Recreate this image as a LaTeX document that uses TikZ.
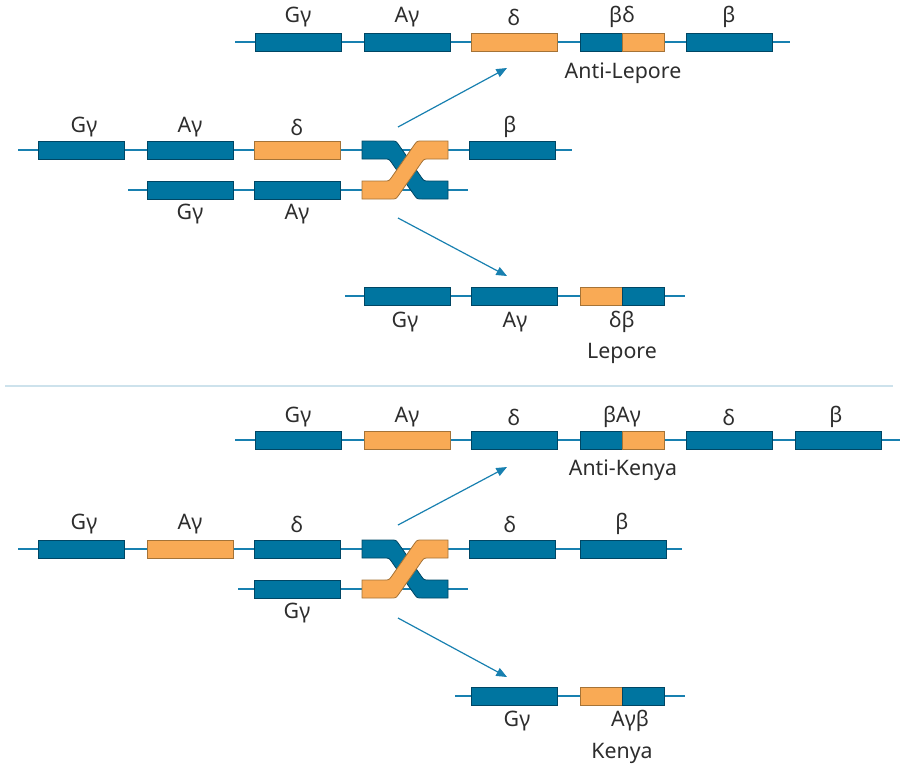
\documentclass[tikz,border=0pt]{standalone}
\usepackage{fontspec}
\setmainfont{Noto Sans}
\usetikzlibrary{arrows.meta,positioning}
\definecolor{geneblue}{RGB}{0,117,160}
\definecolor{geneblueline}{RGB}{0,70,100}
\definecolor{geneorange}{RGB}{249,170,85}
\definecolor{geneorangeline}{RGB}{165,115,55}
\definecolor{strandblue}{RGB}{24,128,176}
\definecolor{rulecolor}{RGB}{205,226,236}
\definecolor{labeltext}{RGB}{45,45,45}
\tikzset{
    gene/.style={draw=geneblueline, fill=geneblue, line width=0.6pt,
        minimum width=64.5pt, minimum height=13.5pt, inner sep=0pt},
    fused/.style={gene, draw=geneorangeline, fill=geneorange},
    halfgene/.style={minimum width=31.5pt},
    strand/.style={draw=strandblue, line width=1.1pt},
    lbl/.style={text=labeltext, font=\fontsize{16}{19}\selectfont, inner sep=0pt},
    outcome/.style={draw=strandblue, line width=0.9pt, -{Triangle[length=8pt,width=6.5pt]}},
}

\begin{document}
\begin{tikzpicture}[x=0.75pt,y=0.75pt,yscale=-1,xscale=1]
\useasboundingbox (0,0) rectangle (907,765);

%Strands
\draw[strand] (235,42) -- (790,42);
\draw[strand] (18,150) -- (572,150);
\draw[strand] (128,190) -- (468,190);
\draw[strand] (345,296) -- (685,296);
\draw[strand] (235,440) -- (900,440);
\draw[strand] (18,549) -- (682,549);
\draw[strand] (238,589) -- (468,589);
\draw[strand] (455,696) -- (685,696);

%Crossover
\foreach \dy in {0,399} {
\begin{scope}[shift={(0,\dy)}]
\draw[draw=geneblueline, fill=geneblue, line width=0.6pt] (362,141) -- (391,141) .. controls (396,141) .. (398.9,145.1) -- (421.1,176.9) .. controls (424,181) .. (429,181) -- (448,181) -- (448,199) -- (422,199) .. controls (417,199) .. (414.1,194.9) -- (391.9,163.1) .. controls (389,159) .. (384,159) -- (362,159) -- cycle;
\draw[draw=geneorangeline, fill=geneorange, line width=0.6pt] (362,199) -- (391,199) .. controls (396,199) .. (398.9,194.9) -- (421.1,163.1) .. controls (424,159) .. (429,159) -- (448,159) -- (448,141) -- (422,141) .. controls (417,141) .. (414.1,145.1) -- (391.9,176.9) .. controls (389,181) .. (384,181) -- (362,181) -- cycle;
\end{scope}
}

%Anti-Lepore
\node[gene] (al-g) at (298,42) {};
\node[gene] (al-a) at (407,42) {};
\node[fused] (al-d) at (514,42) {};
\node[gene, halfgene] (al-bd1) at (601,42) {};
\node[fused, halfgene, right=0pt of al-bd1] (al-bd2) {};
\node[gene] (al-b) at (729,42) {};
\node[lbl] (al-tg) at (298,17) {Gγ};
\node[lbl] (al-ta) at (407,17) {Aγ};
\node[lbl] (al-td) at (514,17) {δ};
\node[lbl] (al-tbd) at (622,17) {βδ};
\node[lbl] (al-tb) at (729,17) {β};
\node[lbl] (al-name) at (623,73) {Anti-Lepore};

%Top pair
\node[gene] (p1-g) at (81,150) {};
\node[gene] (p1-a) at (190,150) {};
\node[fused] (p1-d) at (297,150) {};
\node[gene] (p1-b) at (512,150) {};
\node[lbl] (p1-tg) at (84,127) {Gγ};
\node[lbl] (p1-ta) at (190,127) {Aγ};
\node[lbl] (p1-td) at (297,127) {δ};
\node[lbl] (p1-tb) at (510,127) {β};
\node[gene] (p2-g) at (190,190) {};
\node[gene] (p2-a) at (297,190) {};
\node[lbl] (p2-tg) at (190,214) {Gγ};
\node[lbl] (p2-ta) at (297,214) {Aγ};

\coordinate (al-from) at (398,127);
\coordinate (al-to) at (507,68);
\draw[outcome] (al-from) -- (al-to);
\coordinate (le-from) at (398,218);
\coordinate (le-to) at (507,276);
\draw[outcome] (le-from) -- (le-to);

%Lepore
\node[gene] (le-g) at (407,296) {};
\node[gene] (le-a) at (514,296) {};
\node[fused, halfgene] (le-db1) at (601,296) {};
\node[gene, halfgene, right=0pt of le-db1] (le-db2) {};
\node[lbl] (le-tg) at (405,322) {Gγ};
\node[lbl] (le-ta) at (515,322) {Aγ};
\node[lbl] (le-tdb) at (622,322) {δβ};
\node[lbl] (le-name) at (622,353) {Lepore};

%Separator
\draw[draw=rulecolor, line width=1.2pt] (5,386) -- (893,386);

%Anti-Kenya
\node[gene] (ak-g) at (298,440) {};
\node[fused] (ak-a) at (407,440) {};
\node[gene] (ak-d) at (514,440) {};
\node[gene, halfgene] (ak-ba1) at (601,440) {};
\node[fused, halfgene, right=0pt of ak-ba1] (ak-ba2) {};
\node[gene] (ak-d2) at (729,440) {};
\node[gene] (ak-b) at (838,440) {};
\node[lbl] (ak-tg) at (298,417) {Gγ};
\node[lbl] (ak-ta) at (407,417) {Aγ};
\node[lbl] (ak-td) at (514,417) {δ};
\node[lbl] (ak-tba) at (622,417) {βAγ};
\node[lbl] (ak-td2) at (729,417) {δ};
\node[lbl] (ak-tb) at (836,417) {β};
\node[lbl] (ak-name) at (623,470) {Anti-Kenya};

%Bottom pair
\node[gene] (q1-g) at (81,549) {};
\node[fused] (q1-a) at (190,549) {};
\node[gene] (q1-d) at (297,549) {};
\node[gene] (q1-d2) at (512,549) {};
\node[gene] (q1-b) at (623,549) {};
\node[lbl] (q1-tg) at (84,524) {Gγ};
\node[lbl] (q1-ta) at (190,524) {Aγ};
\node[lbl] (q1-td) at (297,524) {δ};
\node[lbl] (q1-td2) at (510,524) {δ};
\node[lbl] (q1-tb) at (622,524) {β};
\node[gene] (q2-g) at (297,589) {};
\node[lbl] (q2-tg) at (297,613) {Gγ};

\coordinate (ak-from) at (398,525);
\coordinate (ak-to) at (507,467);
\draw[outcome] (ak-from) -- (ak-to);
\coordinate (ke-from) at (398,618);
\coordinate (ke-to) at (507,677);
\draw[outcome] (ke-from) -- (ke-to);

%Kenya
\node[gene] (ke-g) at (514,696) {};
\node[fused, halfgene] (ke-ab1) at (601,696) {};
\node[gene, halfgene, right=0pt of ke-ab1] (ke-ab2) {};
\node[lbl] (ke-tg) at (517,721) {Gγ};
\node[lbl] (ke-tab) at (630,721) {Aγβ};
\node[lbl] (ke-name) at (622,753) {Kenya};
\end{tikzpicture}
\end{document}
